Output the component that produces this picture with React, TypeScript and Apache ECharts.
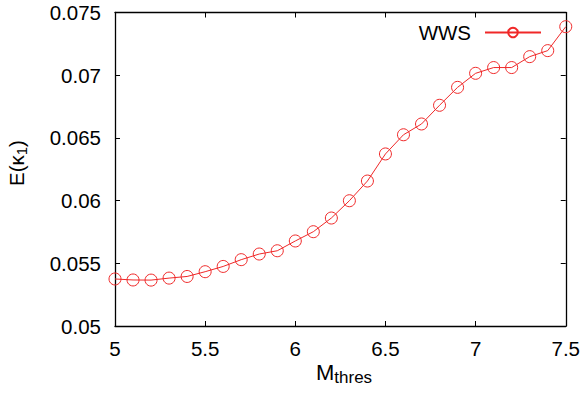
import React, { useEffect, useRef } from "react";
import * as echarts from "echarts";

const xValues = [5.0, 5.1, 5.2, 5.3, 5.4, 5.5, 5.6, 5.7, 5.8, 5.9, 6.0, 6.1, 6.2, 6.3, 6.4, 6.5, 6.6, 6.7, 6.8, 6.9, 7.0, 7.1, 7.2, 7.3, 7.4, 7.5];
const wwsValues = [0.05375, 0.05367, 0.05366, 0.05382, 0.05395, 0.05433, 0.05475, 0.05529, 0.05574, 0.056, 0.05678, 0.05752, 0.05861, 0.05999, 0.06156, 0.06372, 0.06525, 0.06611, 0.0676, 0.06903, 0.07015, 0.07061, 0.07061, 0.07148, 0.07196, 0.07387];
const seriesName = "WWS";

const FONT = "Liberation Sans";
const RED = "#f02828";
const FS = 20.5;

export default function App() {
  const ref = useRef<HTMLDivElement>(null);
  useEffect(() => {
    document.body.style.margin = "0";
    if (!ref.current) return;
    const chart = echarts.init(ref.current, null, { renderer: "svg" });
    const axisLine = { show: true, lineStyle: { color: "#000", width: 1.3 } };
    const tick = { show: true, inside: true, length: 5, lineStyle: { color: "#000", width: 1 } };
    chart.setOption({
      animation: false,
      backgroundColor: "#fff",
      grid: { left: 115, right: 16, top: 12.5, bottom: 70, containLabel: false },
      legend: {
        data: [seriesName],
        right: 36,
        top: 17,
        align: "right",
        itemWidth: 56,
        itemHeight: 12,
        textStyle: { fontFamily: FONT, fontSize: FS, color: "#000", padding: [0, 9, 0, 0] },
      },
      xAxis: [
        {
          type: "value",
          min: 5,
          max: 7.5,
          interval: 0.5,
          axisLine,
          axisTick: tick,
          splitLine: { show: false },
          axisLabel: { fontFamily: FONT, fontSize: FS, color: "#000", margin: 12 },
        },
        {
          type: "value",
          position: "top",
          min: 5,
          max: 7.5,
          interval: 0.5,
          axisLine,
          axisTick: tick,
          splitLine: { show: false },
          axisLabel: { show: false },
        },
      ],
      yAxis: [
        {
          type: "value",
          min: 0.05,
          max: 0.075,
          interval: 0.005,
          axisLine,
          axisTick: tick,
          splitLine: { show: false },
          axisLabel: {
            fontFamily: FONT,
            fontSize: FS,
            color: "#000",
            margin: 14,
            formatter: (v: number) => String(Math.round(v * 1000) / 1000),
          },
        },
        {
          type: "value",
          position: "right",
          min: 0.05,
          max: 0.075,
          interval: 0.005,
          axisLine,
          axisTick: tick,
          splitLine: { show: false },
          axisLabel: { show: false },
        },
      ],
      series: [
        {
          name: seriesName,
          type: "line",
          data: xValues.map((x, i) => [x, wwsValues[i]]),
          symbol: "circle",
          symbolSize: 12,
          showAllSymbol: true,
          lineStyle: { color: RED, width: 1 },
          itemStyle: { color: "rgba(0,0,0,0)", borderColor: RED, borderWidth: 1 },
          clip: false,
        },
      ],
      graphic: [
        {
          type: "text",
          left: 316,
          top: 361,
          style: {
            text: "{m|M}{s|thres}",
            rich: {
              m: { fontFamily: FONT, fontSize: 22, fill: "#000" },
              s: { fontFamily: FONT, fontSize: 17, fill: "#000", padding: [11, 0, 0, 0] },
            },
          },
        },
        {
          type: "text",
          x: 3,
          y: 186,
          rotation: Math.PI / 2,
          style: {
            text: "{m|E(κ}{s|1}{m|)}",
            rich: {
              m: { fontFamily: FONT, fontSize: FS, fill: "#000" },
              s: { fontFamily: FONT, fontSize: 15, fill: "#000", padding: [11, 0, 0, 0] },
            },
          },
        },
      ],
    });
    return () => chart.dispose();
  }, []);
  return <div ref={ref} style={{ width: 583, height: 396 }} />;
}
